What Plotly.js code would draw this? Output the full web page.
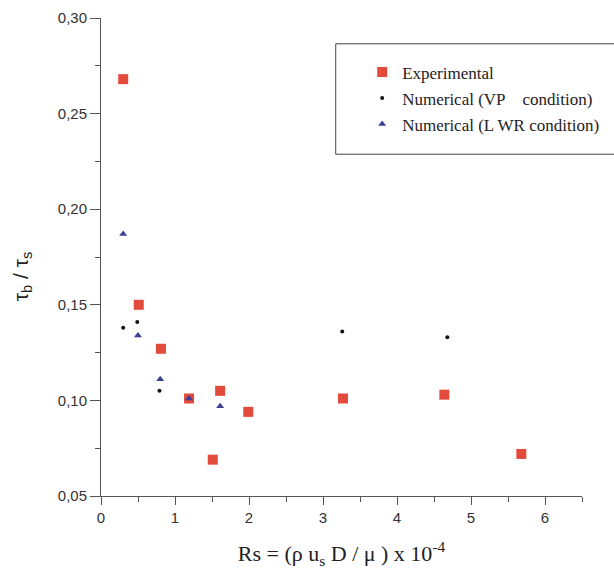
<!DOCTYPE html>
<html>
<head>
<meta charset="utf-8">
<script src="https://cdn.plot.ly/plotly-3.0.1.min.js"></script>
<style>html,body{margin:0;padding:0;background:#fff;}#chart{width:614px;height:575px;}</style>
</head>
<body>
<div id="chart"></div>
<script>
// Experimental
const expX = [0.30, 0.51, 0.81, 1.19, 1.51, 1.61, 1.99, 3.27, 4.64, 5.68];
const expY = [0.268, 0.150, 0.127, 0.101, 0.069, 0.105, 0.094, 0.101, 0.103, 0.072];
// Numerical (VP condition)
const vpX = [0.30, 0.49, 0.79, 3.26, 4.68];
const vpY = [0.138, 0.141, 0.105, 0.136, 0.133];
// Numerical (LWR condition)
const lwrX = [0.30, 0.50, 0.80, 1.19, 1.61];
const lwrY = [0.187, 0.134, 0.111, 0.101, 0.097];
const names = ['Experimental', 'Numerical (VP&nbsp;&nbsp;&nbsp;&nbsp;condition)', 'Numerical (L WR condition)'];
const yTicks = [0.05, 0.10, 0.15, 0.20, 0.25, 0.30];
const xTicks = [0, 1, 2, 3, 4, 5, 6];

const traces = [
  {x: expX, y: expY, name: names[0], mode: 'markers', type: 'scatter', legendgroup: 'a',
   marker: {symbol: 'square', size: 10, color: '#e24a3b'}},
  {x: vpX, y: vpY, name: names[1], mode: 'markers', type: 'scatter', legendgroup: 'b',
   marker: {symbol: 'circle', size: 4, color: '#111'}},
  {x: lwrX, y: lwrY, name: names[2], mode: 'markers', type: 'scatter', legendgroup: 'c',
   marker: {symbol: 'triangle-up', size: 7, color: '#3b3f95'}}
];

const axisCommon = {
  showline: true, linecolor: '#555', linewidth: 1, mirror: false,
  showgrid: false, zeroline: false, ticks: 'outside', ticklen: 9, tickcolor: '#555', tickwidth: 1,
  tickfont: {family: 'Liberation Sans, Arial, sans-serif', size: 15, color: '#333'}
};

const layout = {
  width: 614, height: 575,
  margin: {l: 101, r: 32, t: 18, b: 79, autoexpand: false},
  paper_bgcolor: '#fff', plot_bgcolor: '#fff',
  separators: ',.',
  showlegend: true,
  legend: {
    x: 0.543, y: 0.924, xanchor: 'left', yanchor: 'top',
    bgcolor: 'rgba(0,0,0,0)', borderwidth: 0,
    font: {family: 'Liberation Serif, Times New Roman, serif', size: 17, color: '#222'},
    tracegroupgap: 1, traceorder: 'grouped'
  },
  xaxis: Object.assign({}, axisCommon, {
    range: [0, 6.5], tickvals: xTicks, ticktext: xTicks.map(String), ticklen: 8,
    minor: {dtick: 0.5, tick0: 0, ticks: 'outside', ticklen: 5, tickcolor: '#555'},
    title: {text: 'Rs = (ρ u<sub>s</sub> D / μ ) x 10<sup>-4</sup>', standoff: 20,
            font: {family: 'Liberation Serif, Times New Roman, serif', size: 22, color: '#222'}}
  }),
  yaxis: Object.assign({}, axisCommon, {
    range: [0.05, 0.30], tickvals: yTicks, tickformat: '.2f', ticklen: 10,
    minor: {dtick: 0.025, tick0: 0.05, ticks: 'outside', ticklen: 5, tickcolor: '#555'}
  }),
  annotations: [
    {text: 'τ<sub>b</sub> / τ<sub>s</sub>', xref: 'paper', yref: 'paper', x: -0.164, y: 0.46,
     xanchor: 'center', yanchor: 'middle', textangle: -90, showarrow: false,
     font: {family: 'Liberation Sans, Arial, sans-serif', size: 21, color: '#222'}}
  ],
  shapes: [
    {type: 'rect', xref: 'paper', yref: 'paper', x0: 0.488, x1: 1.1, y0: 0.715, y1: 0.946,
     line: {color: '#444', width: 1}, fillcolor: 'rgba(0,0,0,0)'}
  ]
};

Plotly.newPlot('chart', traces, layout, {displayModeBar: false, staticPlot: true});
</script>
</body>
</html>
